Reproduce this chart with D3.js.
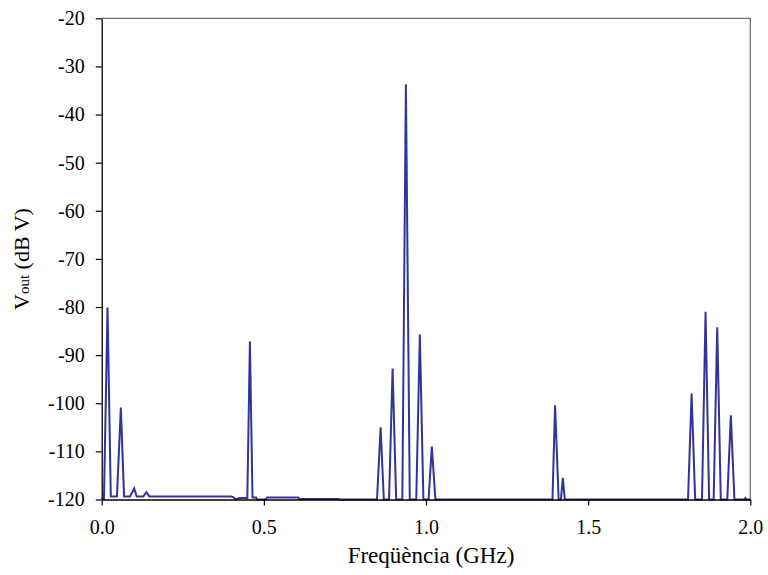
<!DOCTYPE html>
<html>
<head>
<meta charset="utf-8">
<script src="https://cdn.jsdelivr.net/npm/d3@7"></script>
<style>
  body { margin: 0; background: #fff; }
  svg text { font-family: "Liberation Serif", "DejaVu Serif", serif; fill: #000; }
</style>
</head>
<body>
<svg id="canvas"></svg>
<script>
// spectrum vertices (GHz, dBV)
let freq = [
  0.000, 0.007, 0.018, 0.028, 0.047, 0.059, 0.069, 0.087, 0.100, 0.108,
  0.128, 0.138, 0.147, 0.400, 0.408, 0.414, 0.424, 0.449, 0.457, 0.465,
  0.476, 0.479, 0.505, 0.510, 0.606, 0.610, 0.730, 0.733, 0.849, 0.860,
  0.870, 0.886, 0.897, 0.908, 0.927, 0.938, 0.950, 0.970, 0.981, 0.992,
  1.008, 1.018, 1.029, 1.390, 1.398, 1.409, 1.416, 1.422, 1.428, 1.808,
  1.819, 1.830, 1.851, 1.862, 1.873, 1.887, 1.898, 1.909, 1.929, 1.940,
  1.951, 1.982, 1.985, 1.988, 2.000
]
let vout = [
  -119.8, -119.8, -80.1, -119.4, -119.4, -100.9, -119.4, -119.4, -117.7, -119.4,
  -119.4, -118.5, -119.4, -119.4, -119.6, -120, -119.7, -119.7, -87.1, -119.6,
  -119.6, -120, -120, -119.6, -119.6, -119.9, -119.9, -120, -120, -105.0,
  -120, -120, -92.8, -120, -120, -33.7, -120, -120, -85.7, -120,
  -120, -109.0, -120, -120, -100.4, -120, -120, -115.5, -120, -120,
  -98.0, -120, -120, -81.0, -120, -120, -84.2, -120, -120, -102.5,
  -120, -120, -119.7, -120, -120
]

let xTicks = [0, 0.5, 1.0, 1.5, 2.0]
let yTicks = [-20, -30, -40, -50, -60, -70, -80, -90, -100, -110, -120]

const width = 768
const height = 575
const padLeft = 101.7
const padRight = 750.3
const padTop = 18.3
const padBottom = 499.5

let svg = d3.select('#canvas')
    .attr('width', width)
    .attr('height', height)

let xScale = d3.scaleLinear().domain([0, 2.0]).range([padLeft, padRight])
let yScale = d3.scaleLinear().domain([-120, -20]).range([padBottom, padTop])

// frame top / right
svg.append('path')
    .attr('d', `M${padLeft},${padTop}H${padRight}V${padBottom}`)
    .attr('fill', 'none')
    .attr('stroke', '#6e6e6e')
    .attr('stroke-width', 1.3)

let points = freq.map((f, i) => [f, vout[i]])

let line = d3.line()
    .x(d => xScale(d[0]))
    .y(d => yScale(d[1]))

svg.append('path')
    .datum(points)
    .attr('d', line)
    .attr('fill', 'none')
    .attr('stroke', '#333399')
    .attr('stroke-width', 2)
    .attr('stroke-linejoin', 'miter')

let xAxis = d3.axisBottom(xScale)
    .tickValues(xTicks)
    .tickFormat(d3.format('.1f'))
    .tickSizeInner(6)
    .tickSizeOuter(0)
    .tickPadding(14)

let yAxis = d3.axisLeft(yScale)
    .tickValues(yTicks)
    .tickFormat(d => String(d))
    .tickSizeInner(6)
    .tickSizeOuter(0)
    .tickPadding(11)

svg.append('g')
    .attr('transform', 'translate(0,' + padBottom + ')')
    .call(xAxis)

svg.append('g')
    .attr('transform', 'translate(' + padLeft + ',0)')
    .call(yAxis)

svg.selectAll('.domain').attr('stroke', '#000').attr('stroke-width', 1.3)
svg.selectAll('.tick line').attr('stroke', '#000').attr('stroke-width', 1.2)
svg.selectAll('.tick text')
    .style('font-family', '"Liberation Serif", serif')
    .style('font-size', '20px')
    .attr('fill', '#000')

svg.append('text')
    .attr('x', 431)
    .attr('y', 563)
    .attr('text-anchor', 'middle')
    .style('font-size', '23px')
    .text('Freqüència (GHz)')

let ylab = svg.append('text')
    .attr('transform', 'translate(29,259) rotate(-90)')
    .attr('text-anchor', 'middle')
    .style('font-size', '22px')
ylab.append('tspan').text('V')
ylab.append('tspan').text('out').style('font-size', '15px')
ylab.append('tspan').text(' (dB V)').style('font-size', '22px')
</script>
</body>
</html>
